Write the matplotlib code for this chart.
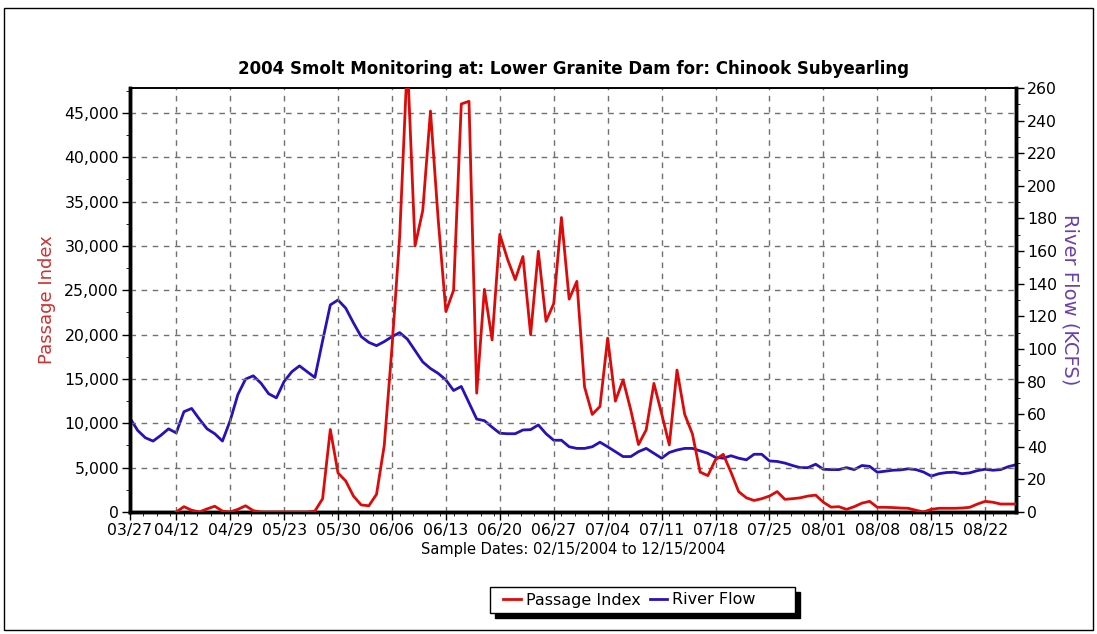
import numpy as np
import matplotlib
matplotlib.use("Agg")
import matplotlib.pyplot as plt
from matplotlib.ticker import AutoMinorLocator, FuncFormatter, MultipleLocator
from matplotlib.patches import Rectangle

# Sample index axis (one point per sample day, 116 samples)
tick_labels = ["03/27", "04/12", "04/29", "05/23", "05/30", "06/06", "06/13", "06/20",
               "06/27", "07/04", "07/11", "07/18", "07/25", "08/01", "08/08", "08/15", "08/22"]
tick_index = [0, 6, 13, 20, 27, 34, 41, 48, 55, 62, 69, 76, 83, 90, 97, 104, 111]

# Passage index (left axis); no data before 04/12
passage = [np.nan] * 6 + [
    0, 600, 200, 0, 350, 650, 100, 0, 300, 700,
    150, 0, 0, 0, 0, 0, 0, 0, 100, 1500,
    9300, 4400, 3500, 1800, 800, 700, 2000, 7500, 18500, 31000,
    51000, 30000, 34000, 45200, 33000, 22600, 25000, 46000, 46300, 13400,
    25100, 19400, 31300, 28500, 26200, 28800, 20000, 29400, 21500, 23500,
    33200, 24000, 26000, 14100, 11000, 11900, 19600, 12500, 14900, 11500,
    7600, 9260, 14500, 11100, 7560, 16000, 11000, 8800, 4500, 4100,
    5900, 6500, 4500, 2300, 1600, 1300, 1500, 1800, 2300, 1430,
    1500, 1600, 1800, 1900, 1100, 550, 600, 300, 600, 1000,
    1200, 530, 530, 500, 450, 420, 200, 0, 300, 420,
    420, 420, 450, 530, 900, 1200, 1100, 900, 900, 900,
]

# River flow in KCFS (right axis)
flow = [
    57.5, 50, 45.5, 43.5, 47, 51, 48.5, 61.5, 63.5, 57,
    51, 48, 43.5, 56, 72, 81.5, 83.5, 79, 72.5, 70,
    80, 86, 89.6, 86, 82.5, 105, 127, 130, 125, 116,
    107.6, 104, 102, 104.5, 107.5, 110, 106, 99, 92, 88,
    85, 81, 74.5, 77, 67, 57, 56, 52, 48.3, 48,
    48, 50.3, 50.5, 53.4, 48, 44, 44, 40, 39, 39,
    40, 42.8, 40, 37, 34, 34, 37, 39, 36, 33,
    36.5, 38, 39, 39, 37.5, 36, 33.5, 33, 34.5, 33,
    32, 35.4, 35.4, 31.3, 31, 30, 28.5, 27.2, 27.2, 29.3,
    26.2, 26, 26, 27.2, 26, 28.5, 28, 24.4, 25, 25.6,
    25.8, 26.5, 26, 24.5, 22, 23.5, 24.2, 24.4, 23.5, 24,
    25.4, 26.2, 25.6, 26, 27.8, 29,
]

x = np.arange(len(flow))

plt.rcParams["font.family"] = ["DejaVu Sans"]

fig = plt.figure(figsize=(10.97, 6.34), dpi=100)
ax = fig.add_axes([130 / 1097, 1 - 512 / 634, 886 / 1097, 424 / 634])
ax2 = ax.twinx()

# right axis sits underneath and carries the background
ax2.set_zorder(0)
ax.set_zorder(1)
ax2.set_facecolor("#f8f8f8")
ax.patch.set_alpha(0.0)

l2, = ax2.plot(x, flow, color="#2a10b8", lw=2.0, label="River Flow")
l1, = ax.plot(x, passage, color="#dd0a0a", lw=2.0, label="Passage Index", zorder=3)

ax.set_xlim(0, len(flow) - 1)
ax.set_ylim(0, 47800)
ax2.set_ylim(0, 260)

ax.set_xticks(tick_index)
ax.set_xticklabels(tick_labels)
ax.xaxis.set_minor_locator(MultipleLocator(1.75))
ax.yaxis.set_major_locator(MultipleLocator(5000))
ax.yaxis.set_minor_locator(AutoMinorLocator(2))
ax.yaxis.set_major_formatter(FuncFormatter(lambda v, p: f"{int(v):,}"))
ax2.yaxis.set_major_locator(MultipleLocator(20))
ax2.yaxis.set_minor_locator(AutoMinorLocator(2))

ax.tick_params(axis="both", labelsize=11.3, length=6, width=1, direction="out", pad=2)
ax.tick_params(which="minor", length=3)
ax2.tick_params(axis="y", labelsize=11.3, length=6, width=1, pad=2)
ax2.tick_params(which="minor", length=3)

ax.grid(True, which="major", color="#707070", linestyle=(0, (4, 4)), lw=1)

for a in (ax, ax2):
    a.spines["left"].set_linewidth(2.5)
    a.spines["bottom"].set_linewidth(2.5)
    a.spines["right"].set_linewidth(2.5)
    a.spines["top"].set_linewidth(1.2)

ax.set_title("2004 Smolt Monitoring at: Lower Granite Dam for: Chinook Subyearling",
             fontsize=12, fontweight="bold", pad=10)
ax.set_xlabel("Sample Dates: 02/15/2004 to 12/15/2004", fontsize=10.5, labelpad=3)
ax.set_ylabel("Passage Index", color="#d03030", fontsize=13, labelpad=6)
ax2.set_ylabel("River Flow (KCFS)", color="#6a3fb0", fontsize=14, rotation=-90, labelpad=16)

# legend: box with hard black shadow, entries at its left
bx0, by0, bw, bh = 490 / 1097, 1 - 613 / 634, 305 / 1097, 26 / 634
fig.patches.append(Rectangle((bx0 + 5 / 1097, by0 - 5 / 634), bw, bh, transform=fig.transFigure,
                             facecolor="black", edgecolor="black", zorder=1))
fig.patches.append(Rectangle((bx0, by0), bw, bh, transform=fig.transFigure,
                             facecolor="white", edgecolor="black", lw=1.0, zorder=2))
leg = fig.legend([l1, l2], ["Passage Index", "River Flow"], loc="center left",
                 bbox_to_anchor=(bx0 + 2 / 1097, by0 + bh / 2), ncol=2, fontsize=11.5,
                 frameon=False, handlelength=1.1, handletextpad=0.3, columnspacing=0.6,
                 borderpad=0.2)
leg.set_zorder(3)

fig.patches.append(Rectangle((0.004, 0.006), 0.992, 0.982, transform=fig.transFigure,
                             fill=False, edgecolor="black", lw=1.0))

fig.savefig("out.png", dpi=100)
